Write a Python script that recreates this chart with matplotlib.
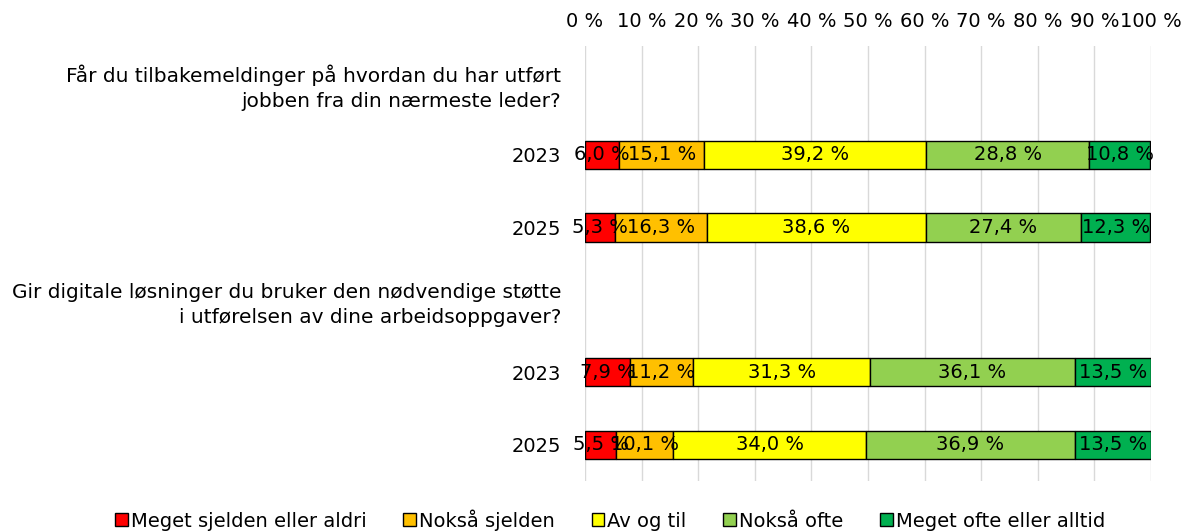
import matplotlib.pyplot as plt
import numpy as np

plt.rcParams['font.family'] = ['DejaVu Sans']

rows = ["Får du tilbakemeldinger på hvordan du har utført\njobben fra din nærmeste leder?",
        "2023", "2025",
        "Gir digitale løsninger du bruker den nødvendige støtte\ni utførelsen av dine arbeidsoppgaver?",
        "2023", "2025"]
series = ["Meget sjelden eller aldri", "Nokså sjelden", "Av og til",
          "Nokså ofte", "Meget ofte eller alltid"]
colors = ["#FF0000", "#FFC000", "#FFFF00", "#92D050", "#00B050"]

# one list per series, value per row (None = question header, no bar)
meget_sjelden = [None, 6.0, 5.3, None, 7.9, 5.5]
noksa_sjelden = [None, 15.1, 16.3, None, 11.2, 10.1]
av_og_til = [None, 39.2, 38.6, None, 31.3, 34.0]
noksa_ofte = [None, 28.8, 27.4, None, 36.1, 36.9]
meget_ofte = [None, 10.8, 12.3, None, 13.5, 13.5]
values = [meget_sjelden, noksa_sjelden, av_og_til, noksa_ofte, meget_ofte]

fig = plt.figure(figsize=(11.94, 5.31), dpi=100)
ax = fig.add_axes([0.49, 0.094, 0.474, 0.819])

y = np.arange(len(rows))
bar_rows = [i for i in y if values[0][i] is not None]
left = np.zeros(len(bar_rows))
for name, col, vals in zip(series, colors, values):
    v = np.array([vals[i] for i in bar_rows])
    ax.barh(bar_rows, v, left=left, height=0.39, color=col, edgecolor="black",
            linewidth=1, label=name, zorder=2)
    for yy, l, w in zip(bar_rows, left, v):
        ax.text(l + w / 2, yy, f"{w:.1f} %".replace(".", ","), ha="center",
                va="center", fontsize=14, zorder=4)
    left = left + v

ax.set_xlim(0, 100)
ax.set_ylim(len(rows) - 0.5, -0.5)
ax.set_yticks(y)
ax.set_yticklabels(rows, fontsize=14, linespacing=1.4)
for i in (0, 3):
    ax.get_yticklabels()[i].set_fontsize(14.5)
ax.set_xticks(np.arange(0, 101, 10))
ax.set_xticklabels([f"{t} %" for t in range(0, 101, 10)], fontsize=14)
ax.xaxis.tick_top()
ax.tick_params(axis="both", length=0)
ax.tick_params(axis="y", pad=17)
ax.tick_params(axis="x", pad=11)
ax.grid(axis="x", color="#D9D9D9", linewidth=1, zorder=0)
ax.set_axisbelow(True)
for s in ax.spines.values():
    s.set_visible(False)

fig.legend(loc="center", bbox_to_anchor=(0.511, 0.021), ncol=5, frameon=False,
           fontsize=14, handlelength=0.65, handleheight=0.65, handletextpad=0.15,
           columnspacing=1.9)

fig.savefig("out.png", dpi=100)
